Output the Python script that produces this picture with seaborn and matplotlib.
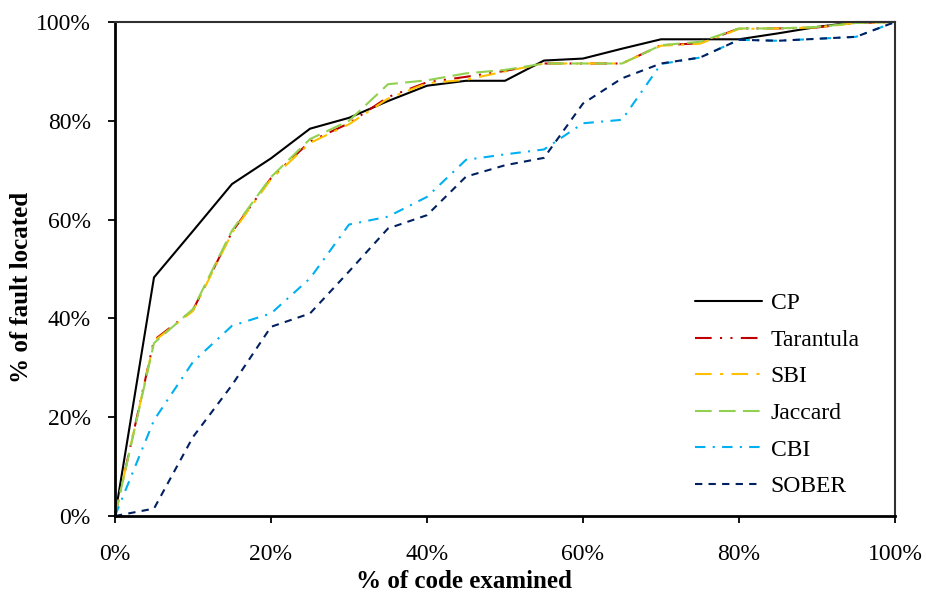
import numpy as np
import pandas as pd
import matplotlib
matplotlib.use("Agg")
import matplotlib.pyplot as plt
import seaborn as sns
from matplotlib.ticker import FuncFormatter

# ---- data ----
code_examined = [0, 5, 10, 15, 20, 25, 30, 35, 40, 45, 50, 55, 60, 65, 70, 75, 80, 85, 90, 95, 100]
cp        = [0, 48.3, 57.7, 67.2, 72.4, 78.4, 80.6, 84.0, 87.1, 88.1, 88.1, 92.2, 92.6, 94.6, 96.5, 96.5, 96.5, 97.7, 99.0, 100, 100]
tarantula = [0, 35.6, 41.7, 57.5, 68.4, 75.8, 79.5, 84.8, 87.8, 88.9, 90.1, 91.6, 91.6, 91.6, 95.3, 95.7, 98.7, 98.7, 98.9, 99.8, 100]
sbi       = [0, 35.4, 41.5, 57.3, 68.2, 75.5, 79.3, 84.5, 87.6, 88.3, 90.0, 91.6, 91.6, 91.6, 95.2, 95.6, 98.6, 98.7, 98.9, 99.8, 100]
jaccard   = [0, 35.0, 41.9, 57.8, 68.6, 76.3, 80.0, 87.4, 88.2, 89.6, 90.3, 91.6, 91.6, 91.6, 95.3, 96.0, 98.7, 98.7, 99.0, 99.8, 100]
cbi       = [0, 19.4, 31.2, 38.5, 41.0, 48.1, 59.0, 60.6, 64.6, 72.1, 73.2, 74.2, 79.5, 80.2, 91.5, 92.8, 96.4, 96.2, 96.6, 97.0, 100]
sober     = [0, 1.5, 16.0, 26.5, 38.3, 41.0, 49.5, 58.2, 60.9, 68.7, 71.0, 72.5, 83.5, 88.6, 91.6, 92.8, 96.4, 96.2, 96.6, 97.0, 100]
methods = ["CP", "Tarantula", "SBI", "Jaccard", "CBI", "SOBER"]
x_ticks = [0, 20, 40, 60, 80, 100]
y_ticks = [0, 20, 40, 60, 80, 100]

series = dict(zip(methods, [cp, tarantula, sbi, jaccard, cbi, sober]))
df = pd.concat(
    [pd.DataFrame({"x": code_examined, "y": v, "method": k}) for k, v in series.items()],
    ignore_index=True,
)

palette = {"CP": "#000000", "Tarantula": "#C00000", "SBI": "#FFC000",
           "Jaccard": "#92D050", "CBI": "#00B0F0", "SOBER": "#002060"}
dashes = {"CP": "", "Tarantula": (8, 4, 1, 4, 1, 4), "SBI": (8, 4, 1.5, 4),
          "Jaccard": (8, 3.5), "CBI": (5, 3.5, 1, 3.5), "SOBER": (3.5, 3)}

sns.set_style("white")
plt.rcParams["font.family"] = ["Liberation Serif", "DejaVu Serif"]
plt.rcParams["text.color"] = "black"
plt.rcParams["axes.labelcolor"] = "black"
plt.rcParams["xtick.color"] = "black"
plt.rcParams["ytick.color"] = "black"

W, H = 926, 596
fig = plt.figure(figsize=(W / 100, H / 100), dpi=100)
L, R, B, T = 115, 895, 516, 22
ax = fig.add_axes([L / W, 1 - B / H, (R - L) / W, (B - T) / H])

sns.lineplot(data=df, x="x", y="y", hue="method", style="method",
             hue_order=methods, style_order=methods, palette=palette,
             dashes=dashes, linewidth=1.5, estimator=None, sort=False, ax=ax)
for ln in ax.get_lines():
    ln.set_clip_on(False)

ax.set_xlim(0, 100)
ax.set_ylim(0, 100)
ax.set_xticks(x_ticks)
ax.set_yticks(y_ticks)
fmt = FuncFormatter(lambda v, p: f"{v:.0f}%")
ax.xaxis.set_major_formatter(fmt)
ax.yaxis.set_major_formatter(fmt)
ax.tick_params(axis="both", which="major", direction="out", length=5, width=1.3,
               labelsize=17, colors="black", bottom=True, left=True)
ax.tick_params(axis="y", pad=12.5)
ax.tick_params(axis="x", pad=15.5)
ax.set_xlabel("")
ax.set_ylabel("")

for s in ["left", "bottom"]:
    ax.spines[s].set_linewidth(2)
    ax.spines[s].set_color("black")
for s in ["top", "right"]:
    ax.spines[s].set_linewidth(1.5)
    ax.spines[s].set_color("#303030")

handles, labels = ax.get_legend_handles_labels()
hl = dict(zip(labels, handles))
leg = ax.legend([hl[m] for m in methods], methods, loc="center left",
                bbox_to_anchor=(695 / W, 1 - 395 / H), bbox_transform=fig.transFigure,
                frameon=False, fontsize=17, handlelength=2.85, handletextpad=0.35,
                labelspacing=0.64, borderpad=0, borderaxespad=0, labelcolor="black")

fig.text(464 / W, 1 - 581 / H, "% of code examined", ha="center", va="center",
         fontsize=18, fontweight="bold", color="black")
fig.text(22 / W, 1 - 287.5 / H, "% of fault located", ha="center", va="center",
         rotation=90, fontsize=18, fontweight="bold", color="black")

fig.savefig("out.png", dpi=100)
